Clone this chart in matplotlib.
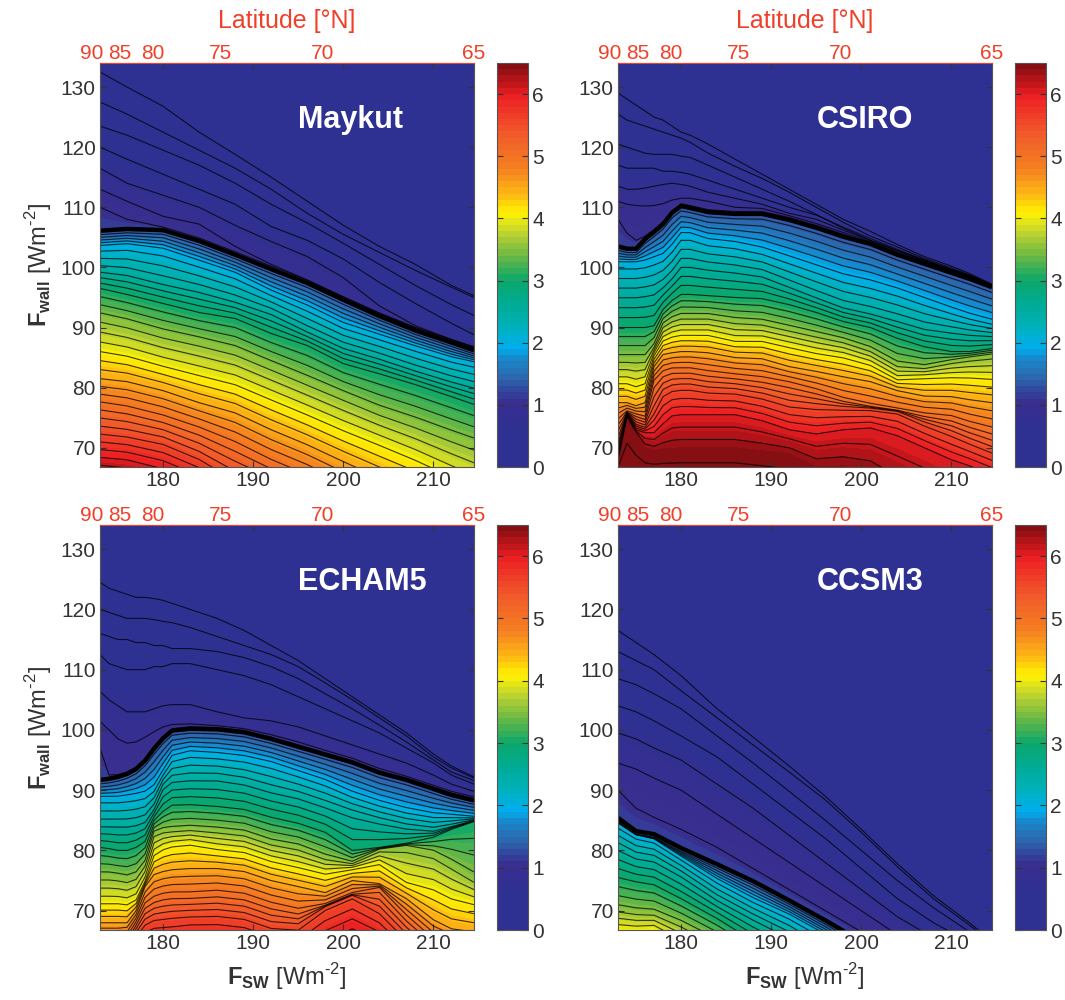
import numpy as np
import matplotlib
matplotlib.use("Agg")
from matplotlib import pyplot as plt
from matplotlib.colors import LinearSegmentedColormap

plt.rcParams['font.family'] = ['Liberation Sans', 'DejaVu Sans']
plt.rcParams['mathtext.fontset'] = 'custom'
plt.rcParams['mathtext.rm'] = 'Liberation Sans'
plt.rcParams['mathtext.bf'] = 'Liberation Sans:bold'

# thickness of the isolines, each row is one isoline height [Wm-2]
upper_levels = [0.15, 0.3, 0.45, 0.6, 0.75, 0.9, 1.05]
x_simple = [173, 176, 180, 184, 188, 192, 196, 200, 204, 208, 212, 214.5]
x_fold = [173, 174, 175, 176, 177, 178, 179, 180, 181, 183, 186, 189, 192, 195, 198, 201, 204, 207, 210, 212, 214.5]
x_ccsm = [173, 175, 177, 180, 184, 188, 192, 196, 200, 204, 208, 212, 214.5]

maykut_levels = [2, 2.5, 3, 3.5, 4, 4.5, 5, 5.5, 6, 6.5]
maykut_upper = [
    [132.5, 130, 126.8, 122.5, 118.8, 115, 111, 107, 103.5, 100.5, 97, 95.3],
    [127.5, 125.5, 122.5, 119.5, 116.5, 113, 109, 105.5, 102.5, 99.5, 96.7, 95],
    [123.5, 122, 119.5, 117, 114, 110.5, 107.4, 104, 100.5, 97, 93.8, 92],
    [120, 118, 115.5, 113, 110.5, 106.8, 104.5, 101.4, 97.5, 94, 90.7, 88.8],
    [116.5, 114, 112, 110, 107, 104.3, 101.8, 98.3, 93.6, 90.3, 88, 86.8],
    [113, 111, 108.5, 107.2, 103.5, 100.5, 97.9, 95.1, 92.4, 90, 88, 86.7],
    [110, 108, 106.7, 104.9, 102.6, 100.2, 97.9, 95.1, 92.4, 90, 88, 86.7],
]
maykut_edge = [106.2, 106.5, 106.3, 104.5, 102.2, 99.8, 97.5, 94.7, 92, 89.6, 87.6, 86.3]
maykut_lower = [
    [103.5, 103.8, 103, 101, 99, 96, 93.5, 90.6, 88.7, 86.8, 85, 84.2],
    [99.5, 99, 97.5, 96.2, 94.5, 92.5, 89.5, 86.8, 85, 83, 81.2, 80.2],
    [96.5, 95.5, 94, 92.5, 91.5, 89, 87, 84, 82.3, 80.5, 78.5, 77.2],
    [92, 91, 89.3, 88, 86.5, 84, 81.5, 79, 76.5, 74.5, 72.3, 71],
    [86.5, 85.7, 84, 82.5, 81, 78.5, 76, 73.4, 71, 68.5, 65.7, 64],
    [81.5, 81, 79.5, 77.5, 75.8, 73, 70.5, 67.7, 65, 62.5, 60, 58.5],
    [77.2, 76.5, 75, 73, 70.5, 67.5, 65, 62, 59.5, 57, 54.5, 53],
    [72.7, 72.2, 71, 68.5, 65, 62.5, 59.5, 57, 54, 51.5, 49, 47.5],
    [68.4, 68, 66.5, 64, 60, 57.5, 54.5, 52, 49, 46.5, 44, 42.5],
    [64, 63.5, 62, 59.5, 55.5, 53, 50, 47.5, 44.5, 42, 39.5, 38],
]

fold_levels = [2, 2.5, 3, 3.5, 4, 4.5, 5, 5.5, 6, 6.4, 6.5]
csiro_upper = [
    [129, 128, 127, 126, 125, 124.5, 123.5, 122.5, 122, 120.5, 118, 115.5, 113, 110.5, 108, 106, 103.8, 101.8, 100.2, 99, 97.2],
    [125.5, 124.5, 124, 123.5, 123, 122.5, 122, 121.5, 120.8, 119, 116.8, 114.8, 112.5, 110, 107.5, 105.2, 103.4, 101.5, 99.9, 98.8, 97.1],
    [120.5, 120, 119.5, 119, 118.8, 118.8, 118.8, 118.5, 118.3, 117, 115, 113, 111, 108.8, 106.5, 104.5, 102.8, 101.2, 99.6, 98.6, 97],
    [117, 116.5, 116.5, 116.5, 116.5, 116, 116, 115.8, 115.5, 114.5, 113, 111.5, 110, 108.7, 106.7, 104.8, 103, 101.3, 99.7, 98.7, 97],
    [113.5, 113, 113, 113.2, 113.5, 113.8, 114, 113.8, 113.5, 112.5, 111.5, 110.5, 109, 108, 106.2, 104.5, 102.8, 101.1, 99.6, 98.6, 97],
    [111, 110.5, 110.3, 110.2, 110.3, 110.6, 111.2, 111.5, 111.5, 111, 110, 109.8, 108.6, 107.3, 105.8, 104.3, 102.6, 101, 99.5, 98.5, 97],
    [108, 105.7, 104.5, 105.2, 106.3, 107.6, 109.4, 110.6, 110.3, 109.6, 109.3, 109.3, 108.3, 107, 105.5, 104.2, 102.4, 100.9, 99.4, 98.4, 97],
]
csiro_edge = [103.6, 103.2, 103.2, 104.8, 106, 107.3, 109.2, 110.3, 110, 109.3, 109, 109, 108, 106.7, 105.2, 104, 102.2, 100.7, 99.2, 98.2, 96.8]
csiro_lower = [
    [100.8, 100.8, 100.8, 101, 101.5, 102, 103.5, 105.5, 105.5, 104.5, 104, 103, 101.5, 100, 98.5, 97.5, 96.2, 94.6, 93, 92, 91],
    [95.5, 95.5, 95.5, 95.7, 96, 97, 98.5, 100.5, 100.5, 100, 99.5, 98.8, 97, 95.2, 93.5, 92.5, 91.3, 90, 89.4, 89, 88.7],
    [90, 90, 90, 90, 90.3, 93, 94.5, 95.5, 95.5, 95.3, 95, 94.8, 93.8, 92.5, 91, 90, 88.2, 86.8, 86, 86, 86.5],
    [85, 85, 85, 85, 87, 90.5, 91.5, 92, 92, 92, 91.3, 91, 90, 89, 88, 86.5, 84, 83.5, 84.5, 85, 85.5],
    [81, 81, 80.5, 81, 85.5, 88, 88.7, 89, 89, 89, 88, 88, 87, 86, 85.3, 84, 81.5, 81.8, 82, 82, 81.8],
    [77.5, 77.5, 77, 77.5, 83.5, 85.5, 85.8, 86, 86, 85.8, 85, 84.8, 83.5, 82.7, 81.8, 81, 79.5, 78.6, 78.5, 78, 77.5],
    [74.5, 76, 75.5, 75, 81, 82.5, 83, 83, 83, 82.5, 82, 81.5, 80.7, 79.5, 78, 77, 76.3, 75.5, 75, 74, 73],
    [71, 75.8, 74, 73.5, 76, 79, 79.8, 80, 80, 79.5, 79.3, 78.5, 77.2, 76.8, 76.6, 76.5, 76, 74, 72.3, 71, 69.5],
    [69, 75.5, 73, 72.5, 72.5, 74, 75.3, 75.5, 75.5, 75.5, 75.5, 74.5, 73, 72.3, 73, 73.3, 72, 70, 68, 67, 65.5],
    [67.5, 75, 72.5, 70, 69.5, 69.8, 69.9, 70, 70, 70, 70, 69.5, 69, 66.8, 67, 66, 63, 61, 59, 58, 57],
    [66, 66.5, 65, 65, 65, 65, 65, 65, 65, 65, 65, 64.5, 64, 62, 62, 61, 58, 56, 54, 53, 52],
]

echam_upper = [
    [124.5, 123.5, 123, 122.5, 122, 122, 121.8, 121.5, 121, 120, 118.5, 116.5, 114, 111.5, 108.5, 105.5, 102.5, 99.5, 96, 94, 92.2],
    [120, 119.5, 119, 118.5, 118.5, 118.5, 118.3, 118, 117.8, 117, 115.5, 114, 112.5, 110.5, 107.8, 105, 102, 99, 95.5, 93.7, 92],
    [116, 115.5, 115, 115, 114.5, 114.5, 114, 114, 113.5, 113.5, 113, 112, 110.5, 108.5, 106, 103.5, 100.8, 98, 95, 93, 91.6],
    [112.5, 111, 110.5, 110, 110, 110, 110.5, 110.5, 111, 111, 110, 109, 107.5, 105.5, 103.5, 101.5, 99.5, 97, 94.5, 92.5, 91],
    [106.4, 105, 104, 103, 103, 103, 103.5, 104, 104.2, 104.2, 103, 102, 101.5, 100.5, 99, 97.5, 96, 94.5, 92.5, 91, 89.8],
    [101.4, 100, 98.5, 97.8, 98, 98.8, 99.7, 100.5, 100.9, 101, 100.7, 100.2, 99.2, 98, 96.6, 95.3, 93.6, 92.3, 90.8, 89.8, 88.9],
    [97, 92.5, 92.6, 93, 93.8, 95.2, 97.2, 98.9, 100.2, 100.5, 100.4, 99.9, 98.8, 97.5, 96.2, 94.9, 93.2, 92, 90.5, 89.5, 88.6],
]
echam_edge = [91.8, 92, 92.3, 92.8, 93.6, 95, 97, 98.7, 100, 100.3, 100.2, 99.7, 98.6, 97.3, 96, 94.7, 93, 91.8, 90.3, 89.3, 88.4]
echam_lower = [
    [88.8, 88.8, 88.8, 89, 89.2, 89.5, 90.5, 93, 95.5, 96.3, 96, 95.5, 94.5, 93, 91.5, 89.5, 88, 86.8, 86, 85.8, 85.5],
    [84.3, 84.3, 84.3, 84.3, 84.5, 85, 87, 90.5, 91.7, 92, 92, 91.3, 90, 89, 87.5, 86, 84.8, 83.8, 83.3, 84, 85],
    [80.5, 80.3, 80, 80, 80.5, 81.5, 85, 86.5, 87.5, 87.6, 87.3, 86.8, 85.5, 84.5, 83, 80, 80.5, 81.2, 82.2, 83.5, 84.8],
    [76, 76, 75.8, 75.5, 76, 78, 83, 83.5, 83.6, 83.8, 83.5, 83, 81.5, 80.7, 79, 78, 80.2, 80.8, 79.8, 78, 75.5],
    [71.5, 71.5, 71.5, 71.3, 72, 75, 79.5, 80.5, 81, 81.3, 80.5, 80, 78.5, 77.5, 76.4, 77, 78, 75, 74, 72.5, 71.5],
    [68, 68, 68, 68, 70, 74, 76, 76.5, 76.8, 77, 77, 76.5, 75, 74, 73, 75, 74.5, 72, 68.5, 67, 66.5],
    [65, 65, 65, 65.5, 68, 71, 72, 72.5, 72.7, 72.7, 73, 72.5, 71, 70, 71, 72.8, 73.8, 69, 65, 64, 62.5],
    [62, 62, 62, 63, 66, 68, 68.8, 69, 69.2, 69.4, 69.5, 69, 67.5, 67.3, 70.6, 72.5, 70, 65.5, 62, 60, 58],
    [59, 59, 59, 60, 62, 64, 64.5, 64.5, 64.5, 65, 65, 64.5, 63, 62, 65, 67, 65, 61, 57, 55, 53],
    [56, 56, 56, 57, 59, 60, 61, 61, 61, 61.5, 61.5, 61, 59, 58, 60, 62, 60, 56, 52, 50, 48],
    [55, 55, 55, 56, 58, 59, 60, 60, 60, 60.5, 60.5, 60, 58, 57, 59, 61, 59, 55, 51, 49, 47],
]

ccsm_levels = [2, 2.5, 3, 3.5, 4, 4.5, 5, 6, 6.5]
ccsm_upper = [
    [116.5, 114.5, 112.5, 109, 103.5, 98.8, 94, 89, 83.5, 77.8, 72.5, 68, 65],
    [113, 111.5, 110, 106.5, 102, 97.5, 93, 88.4, 83, 77.3, 72, 67.6, 64.7],
    [108.5, 107.5, 106, 103.5, 99, 94.5, 89.8, 85, 80, 75, 70.5, 66.5, 64.3],
    [104, 103, 101.5, 99, 95.5, 91, 86.5, 82, 77, 72, 68, 64.8, 63],
    [99.5, 98.5, 97, 95, 91, 87, 82.5, 78, 73.5, 69, 65.5, 62.5, 61],
    [94.5, 93.5, 92, 90, 86, 82, 78, 74, 70, 66, 62.5, 59.5, 58],
    [90, 87, 85.5, 83.5, 80.5, 77, 73.5, 70, 66.5, 62.5, 58.5, 54.5, 52.5],
]
ccsm_edge = [85.5, 83.3, 82.8, 80.5, 77.8, 75, 71.8, 68.5, 65, 61, 57, 53, 51]
ccsm_lower = [
    [84.5, 82.6, 81.9, 79, 75.2, 72, 69.3, 66, 62.5, 59, 55, 51, 49],
    [80.5, 79, 78.5, 76, 72, 68.8, 65.8, 62, 59, 55, 51, 47, 45],
    [75.5, 74.8, 74.3, 72, 68.7, 65, 62, 58.5, 55, 51, 47, 43, 41],
    [70.5, 70, 69.8, 68, 65, 61.5, 58, 54.5, 51, 47, 43, 39, 37],
    [67, 66.8, 67, 64.5, 61, 57.5, 54, 50.5, 47, 43, 39, 35, 33],
    [64, 63.8, 64, 61, 58, 54, 50.5, 47, 43, 39, 35, 31, 29],
    [61, 60.5, 60.5, 58, 55, 51, 47, 43, 39, 35, 31, 27, 25],
    [55, 54.5, 54.5, 52, 49, 45, 41, 37, 33, 29, 25, 21, 19],
    [52, 51.5, 51.5, 49, 46, 42, 38, 34, 30, 26, 22, 18, 16],
]

lat_labels = ['90', '85', '80', '75', '70', '65']
lat_ticks = [173, 174.5, 178.9, 186.4, 197.7, 214.5]
lat_shift = [-8, 6, 0, 0, 0, 0]
fsw_ticks = [180, 190, 200, 210]
fwall_ticks = [70, 80, 90, 100, 110, 120, 130]
bar_ticks = [0, 1, 2, 3, 4, 5, 6]

cmap_pts = [
    (0.0, '#2e3192'), (0.6, '#2e3192'), (1.0, '#3a2d8e'), (1.15, '#33409a'), (1.4, '#2d66ac'),
    (1.7, '#1a85c8'), (1.9, '#00aeef'), (2.2, '#00b2c0'), (2.6, '#00ab95'), (3.0, '#0ca76a'),
    (3.4, '#6cb944'), (3.8, '#c4d52f'), (4.1, '#fff200'), (4.4, '#fdb913'), (4.8, '#f58220'),
    (5.4, '#f1592a'), (6.0, '#ed2024'), (6.2, '#c4161c'), (6.5, '#850f12'),
]
thick_cmap = LinearSegmentedColormap.from_list('thick', [(v / 6.5, c) for v, c in cmap_pts], N=65)
fill_levels = np.arange(66) / 10
line_levels = np.arange(1, 44) * 0.15

RED = '#f0402a'
GREY = '#333333'
W, H = 1065.0, 1000.0


def box(x0, y0, x1, y1):
    return [x0 / W, 1 - y1 / H, (x1 - x0) / W, (y1 - y0) / H]


def panel(rect, bar_rect, name, xs, upper, edge, lower, lower_levels, top_row, bottom_row, left_col):
    ax = fig.add_axes(box(*rect))
    edge = np.array(edge, dtype=float)
    top = np.full_like(edge, 140.0)
    rows = np.vstack([top, upper, edge + 0.15, edge - 0.6, lower])
    levs = np.r_[0, upper_levels, 1.15, 1.3, lower_levels]
    X = np.tile(xs, (len(levs), 1))
    Z = np.tile(np.array(levs)[:, None], (1, len(xs)))
    cf = ax.contourf(X, rows, Z, levels=fill_levels, cmap=thick_cmap, vmin=0, vmax=6.5)
    ax.contour(X, rows, Z, levels=line_levels, colors='k', linewidths=0.8, alpha=0.75)
    ax.contour(X, rows, Z, levels=[1.2], colors='k', linewidths=3.2)
    ax.set_xlim(173, 214.5)
    ax.set_ylim(66.8, 134)
    ax.set_xticks(fsw_ticks)
    ax.set_yticks(fwall_ticks)
    ax.tick_params(direction='in', length=4, width=0.8, top=True, right=True, colors=GREY, labelsize=15, pad=3)
    for s in ax.spines.values():
        s.set_color('#555555')
    ax.spines['top'].set_color(RED)
    ax.text(195, 124.5, name, color='white', fontsize=22, fontweight='bold', ha='left', va='center')

    sec = ax.secondary_xaxis('top')
    sec.set_xticks(lat_ticks)
    sec.set_xticklabels([])
    sec.tick_params(direction='in', length=3, width=0.8, colors=RED)
    sec.spines['top'].set_color(RED)
    for t, lab, dx in zip(lat_ticks, lat_labels, lat_shift):
        ax.annotate(lab, (t, 1), xycoords=('data', 'axes fraction'), xytext=(dx * 0.72, 0), textcoords='offset points',
                    color=RED, fontsize=15, ha='center', va='bottom', annotation_clip=False)
    if top_row:
        ax.text(0.5, 1.0 + 42 / 404, 'Latitude [°N]', transform=ax.transAxes, color=RED, fontsize=18, ha='center', va='center')
    if bottom_row:
        ax.set_xlabel(r'$\mathbf{F_{SW}}$ [Wm$^{\text{-}2}$]', fontsize=17, color=GREY, labelpad=6)
    if left_col:
        ax.set_ylabel(r'$\mathbf{F_{wall}}$ [Wm$^{\text{-}2}$]', fontsize=17, color=GREY, labelpad=5)

    cax = fig.add_axes(box(*bar_rect))
    cb = fig.colorbar(cf, cax=cax, ticks=bar_ticks)
    cb.ax.tick_params(direction='in', length=4, width=0.8, left=True, right=True, colors=GREY, labelsize=15, pad=3)
    cb.ax.set_yticklabels([str(b) for b in bar_ticks])
    cb.outline.set_edgecolor('#555555')
    return ax


fig = plt.figure(figsize=(10.65, 10), dpi=100)
panel((100, 63, 474, 467), (497, 63, 528, 467), 'Maykut', x_simple, maykut_upper, maykut_edge, maykut_lower, maykut_levels, True, False, True)
panel((618, 63, 992, 467), (1015, 63, 1046, 467), 'CSIRO', x_fold, csiro_upper, csiro_edge, csiro_lower, fold_levels, True, False, False)
panel((100, 525, 474, 930), (497, 525, 528, 930), 'ECHAM5', x_fold, echam_upper, echam_edge, echam_lower, fold_levels, False, True, True)
panel((618, 525, 992, 930), (1015, 525, 1046, 930), 'CCSM3', x_ccsm, ccsm_upper, ccsm_edge, ccsm_lower, ccsm_levels, False, True, False)

fig.savefig('out.png', dpi=100)
